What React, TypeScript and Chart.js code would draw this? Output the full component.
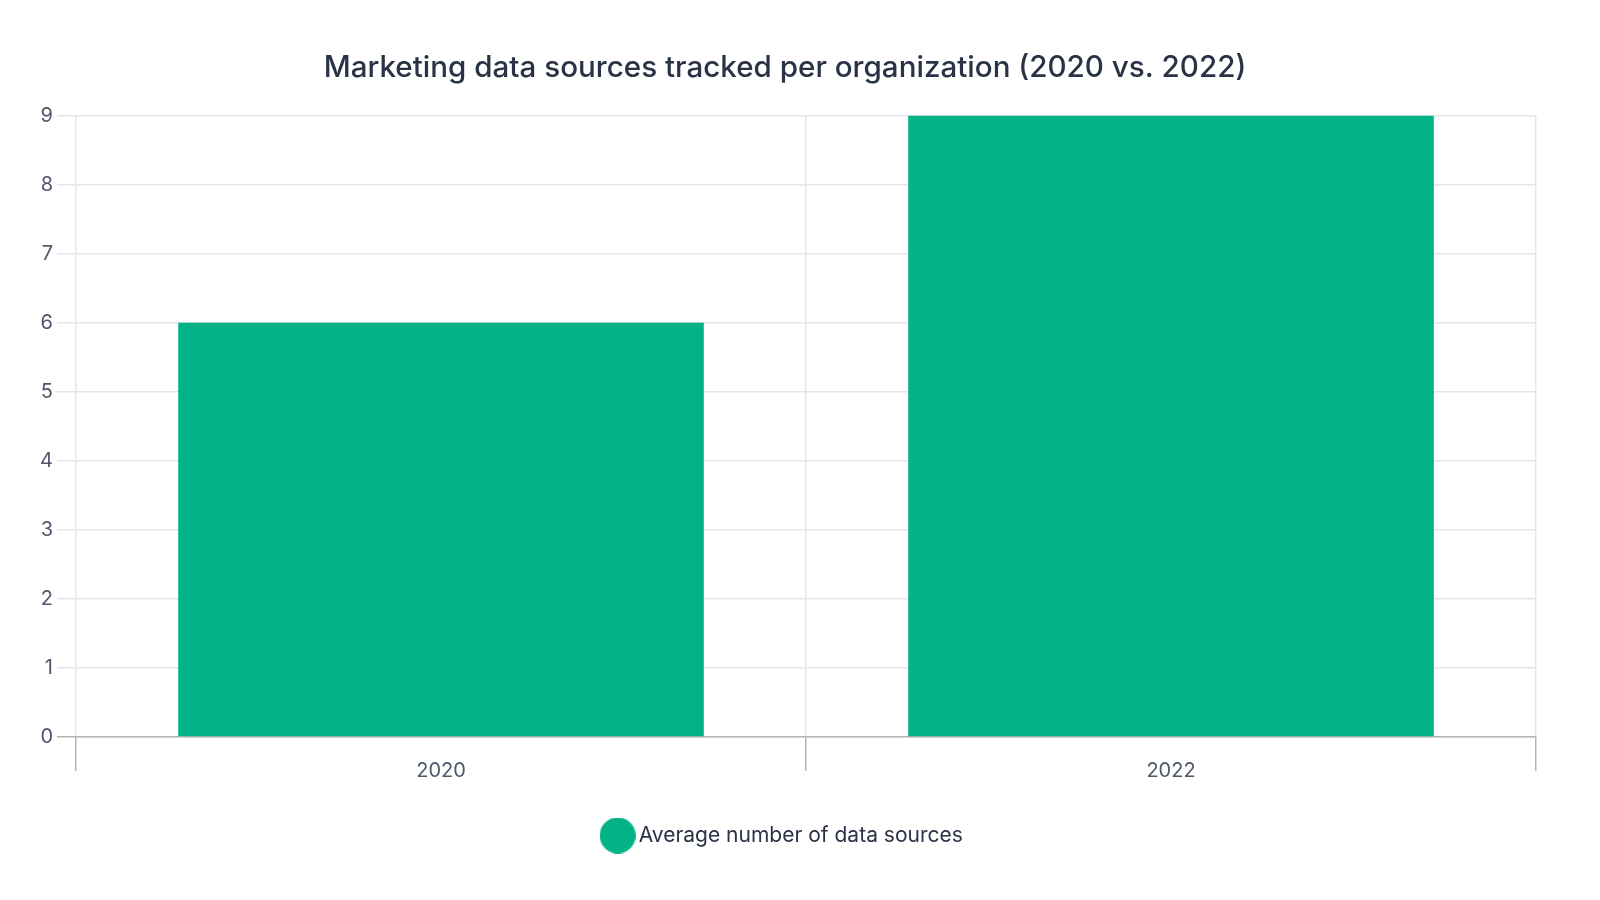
import { useEffect, useRef } from 'react'
import Chart from 'chart.js/auto'

const years = ['2020', '2022']
const avgSources = [6, 9]
const seriesLabel = 'Average number of data sources'
const chartTitle = 'Marketing data sources tracked per organization (2020 vs. 2022)'

const GREEN = '#02b388'
const GRID = '#e1e5ed'
const AXIS = '#b4b4b4'
const TEXT = '#2a3346'
const TICK_TEXT = '#4f586a'
const FONT = 'Inter, "Open Sans", sans-serif'

// legend marker: a filled circle bigger than Chart.js would draw from the font size
function makeDot(size: number, color: string) {
  const c = document.createElement('canvas')
  c.width = size
  c.height = size
  const g = c.getContext('2d')
  if (g) {
    g.fillStyle = color
    g.beginPath()
    g.arc(size / 2, size / 2, size / 2, 0, Math.PI * 2)
    g.fill()
  }
  return c
}

export default function App() {
  const canvasRef = useRef<HTMLCanvasElement>(null)
  const chartRef = useRef<Chart | null>(null)

  useEffect(() => {
    if (!canvasRef.current) return
    if (chartRef.current) chartRef.current.destroy()

    const dot = makeDot(36, GREEN)

    chartRef.current = new Chart(canvasRef.current, {
      type: 'bar',
      data: {
        labels: years,
        datasets: [
          {
            label: seriesLabel,
            data: avgSources,
            backgroundColor: GREEN,
            borderWidth: 0,
            barPercentage: 0.72,
            categoryPercentage: 1,
            pointStyle: dot,
          },
        ],
      },
      options: {
        responsive: true,
        maintainAspectRatio: false,
        animation: false,
        layout: { padding: { left: 0, right: 30, top: 0, bottom: 44 } },
        plugins: {
          title: {
            display: true,
            text: chartTitle,
            color: TEXT,
            font: { family: FONT, size: 29.6, weight: 500 },
            padding: { top: 50, bottom: 30 },
          },
          legend: {
            position: 'bottom',
            labels: {
              usePointStyle: true,
              boxWidth: 22,
              boxHeight: 22,
              color: TEXT,
              font: { family: FONT, size: 21 },
              padding: 10,
            },
          },
          tooltip: { enabled: false },
        },
        scales: {
          x: {
            offset: true,
            grid: {
              offset: true,
              color: GRID,
              lineWidth: 1.5,
              drawTicks: true,
              tickLength: 34,
              tickColor: AXIS,
            },
            border: { display: true, color: AXIS, width: 1.5 },
            ticks: {
              color: TICK_TEXT,
              font: { family: FONT, size: 20 },
              padding: -12,
            },
            afterFit: (scale) => {
              scale.height = 78
            },
          },
          y: {
            min: 0,
            max: 9,
            ticks: {
              stepSize: 1,
              color: TICK_TEXT,
              font: { family: FONT, size: 20 },
              padding: 4,
            },
            grid: {
              color: GRID,
              lineWidth: 1.5,
              tickLength: 19,
              tickColor: (ctx) => (ctx.tick && ctx.tick.value === 0 ? AXIS : GRID),
            },
            border: { display: false },
            afterFit: (scale) => {
              scale.width = 76
            },
          },
          // empty right-hand axis: keeps the plot edge in from the side
          spacer: {
            position: 'right',
            display: true,
            grid: { display: false },
            border: { display: false },
            ticks: { display: false },
            afterFit: (scale) => {
              scale.width = 34
            },
          },
        },
      },
    })

    return () => {
      if (chartRef.current) {
        chartRef.current.destroy()
        chartRef.current = null
      }
    }
  }, [])

  return (
    <div style={{ position: 'absolute', left: 0, top: 0, width: 1600, height: 900, background: '#fff' }}>
      <canvas ref={canvasRef} />
    </div>
  )
}
